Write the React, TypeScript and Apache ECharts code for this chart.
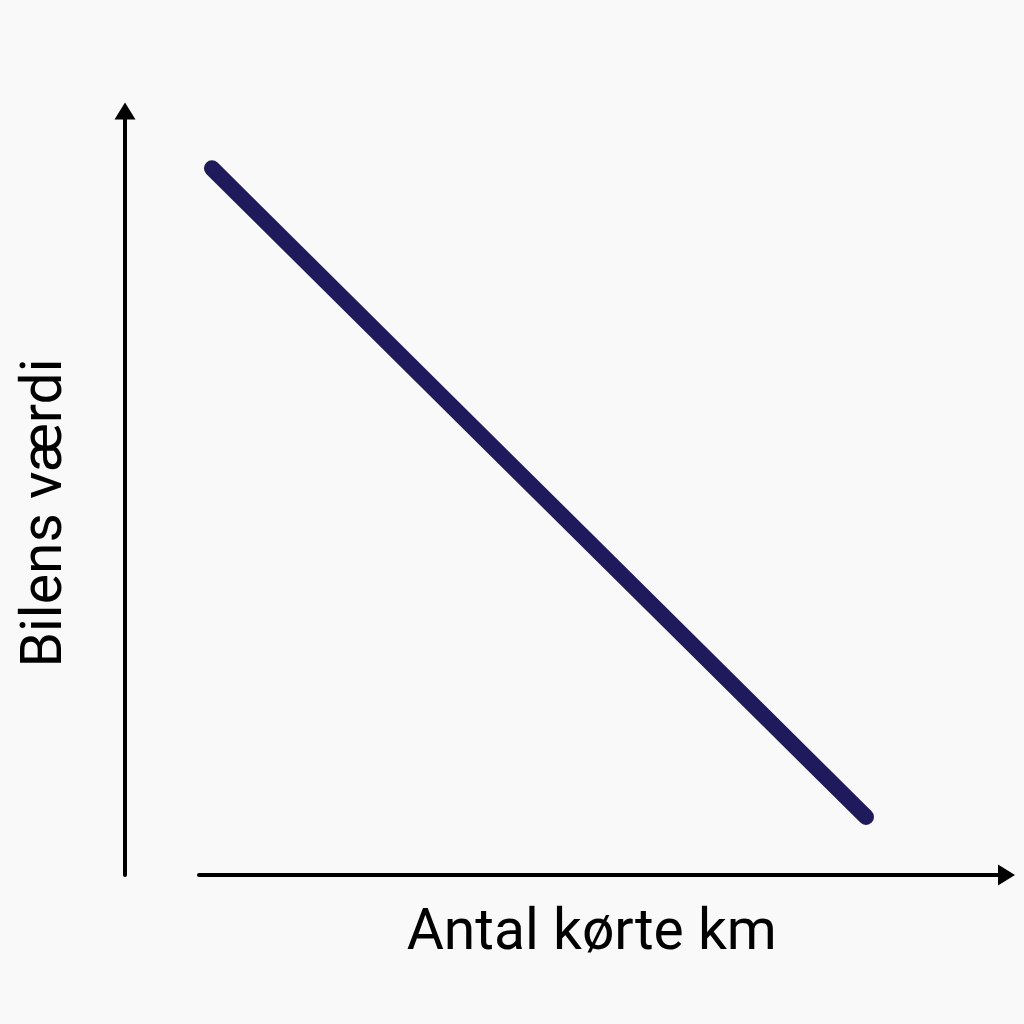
import React, { useEffect, useRef } from "react";
import * as echarts from "echarts";

const xName = "Antal kørte km";
const yName = "Bilens værdi";
// Conceptual straight line: value falls as distance driven grows
const kmValues = [1.6, 82.6];
const carValues = [92.5, 7.6];

export default function App() {
  const ref = useRef<HTMLDivElement>(null);
  useEffect(() => {
    if (!ref.current) return;
    const chart = echarts.init(ref.current, null, { renderer: "svg" });
    const axisLineStyle = { color: "#000000", width: 4 };
    chart.setOption({
      animation: false,
      backgroundColor: "#f9f9f9",
      grid: { left: 199, right: 17.5, top: 111, bottom: 149 },
      xAxis: {
        type: "value",
        min: 0,
        max: 100,
        name: xName,
        nameLocation: "middle",
        nameGap: 26,
        nameTextStyle: {
          fontFamily: "Roboto",
          fontSize: 57,
          color: "#000000",
          lineHeight: 57,
          padding: [0, 22, 0, 0],
        },
        axisLine: {
          show: true,
          onZero: false,
          symbol: ["none", "triangle"],
          symbolSize: [21, 17],
          lineStyle: axisLineStyle,
        },
        axisTick: { show: false },
        axisLabel: { show: false },
        splitLine: { show: false },
      },
      yAxis: {
        type: "value",
        min: 0,
        max: 100,
        offset: 74,
        name: yName,
        nameLocation: "middle",
        nameGap: 55,
        nameTextStyle: {
          fontFamily: "Roboto",
          fontSize: 57,
          color: "#000000",
          lineHeight: 57,
          padding: [0, 40, 0, 0],
        },
        axisLine: {
          show: true,
          onZero: false,
          symbol: ["none", "triangle"],
          symbolSize: [21, 17],
          lineStyle: axisLineStyle,
        },
        axisTick: { show: false },
        axisLabel: { show: false },
        splitLine: { show: false },
      },
      series: [
        {
          type: "line",
          data: kmValues.map((x, i) => [x, carValues[i]]),
          showSymbol: false,
          symbol: "none",
          lineStyle: { color: "#1e1a5c", width: 16, cap: "round" },
        },
      ],
    });
    return () => chart.dispose();
  }, []);
  return (
    <div
      ref={ref}
      style={{ position: "fixed", left: 0, top: 0, width: 1024, height: 1024 }}
    />
  );
}
